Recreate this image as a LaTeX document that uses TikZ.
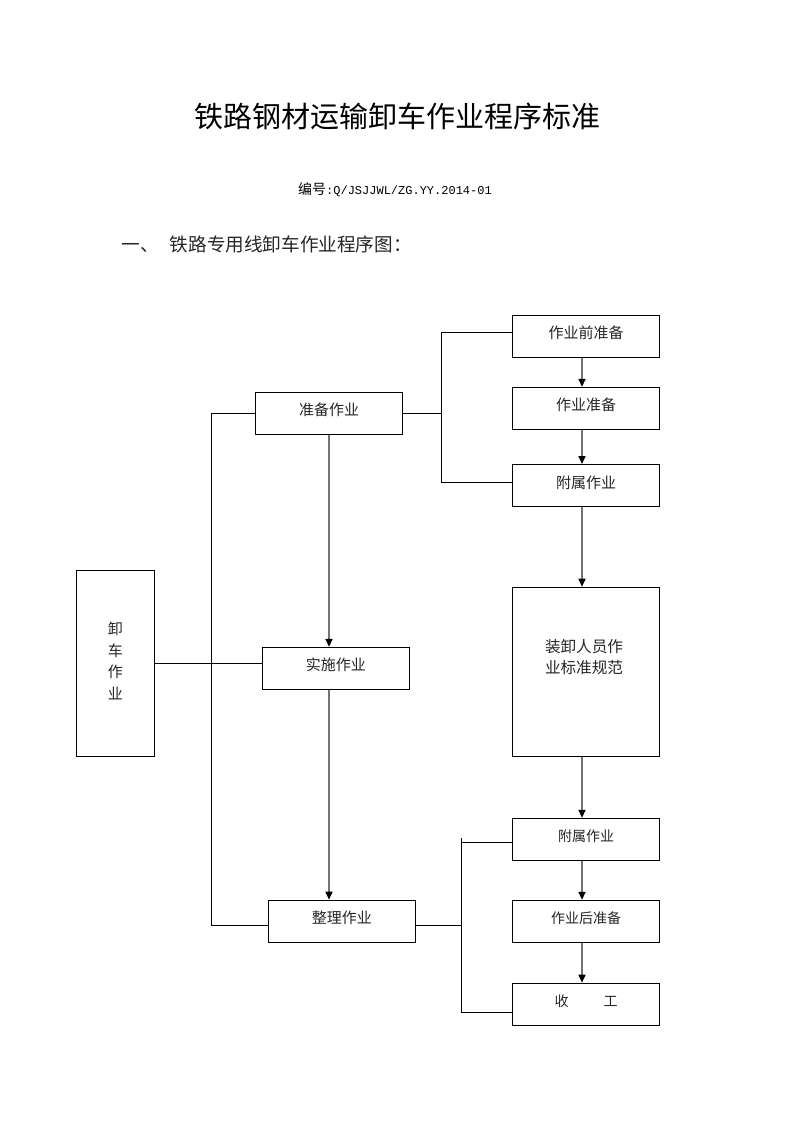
\documentclass[tikz,border=0pt]{standalone}
\usepackage{fontspec}
\newfontfamily\cjk{Noto Sans CJK SC}
\newfontfamily\mono{Liberation Mono}
\usetikzlibrary{arrows.meta}
\begin{document}
\begin{tikzpicture}[x=1pt,y=-1pt,
  box/.style={draw=black,line width=1pt,minimum width=147pt,minimum height=42pt,inner sep=0pt,
    font=\cjk\fontsize{15}{18}\selectfont,text=black!85,text height=13pt,text depth=8pt},
  sbox/.style={box,font=\cjk\fontsize{14}{17}\selectfont},
  conn/.style={draw=black,line width=0.9pt},
  arr/.style={draw=black!55,line width=1.6pt,-{Triangle[length=8pt,width=7pt,color=black]}}]
\useasboundingbox (0,0) rectangle (793,1122);
\fill[white] (0,0) rectangle (793,1122);
% texts
\node (title) at (397.5,116) {\cjk\fontsize{29}{34}\selectfont 铁路钢材运输卸车作业程序标准};
\node (code) at (395,189.5) {\cjk\fontsize{14}{16}\selectfont 编号\mono\fontsize{12}{14}\selectfont:Q/JSJJWL/ZG.YY.2014-01};
\node[anchor=west,inner sep=0pt] (sec) at (121.5,244) {\cjk\fontsize{18.6}{22}\selectfont\color{black!85}一、\hspace{11pt}铁路专用线卸车作业程序图：};
% boxes
\node[box] (qian) at (586,336) {作业前准备};
\node[box] (zb) at (586,408.3) {作业准备};
\node[box] (fs1) at (586,485.5) {附属作业};
\node[box] (zhunbei) at (329,413.3) {准备作业};
\node[draw=black,line width=1pt,minimum width=78pt,minimum height=186pt,inner sep=0pt] (xieche) at (115.3,663.3) {};
\node[align=center,font=\cjk\fontsize{15}{21.7}\selectfont,text=black!85] (xct) at (115.3,661) {卸\\车\\作\\业};
\node[box] (shishi) at (335.8,668.3) {实施作业};
\node[draw=black,line width=1pt,minimum width=147pt,minimum height=169pt,inner sep=0pt] (zx) at (585.8,671.7) {};
\node[align=center,font=\cjk\fontsize{15.6}{20.5}\selectfont,text=black!85] (zxt) at (584,657) {装卸人员作\\业标准规范};
\node[sbox] (fs2) at (586,839.3) {附属作业};
\node[sbox] (hou) at (586,921.3) {作业后准备};
\node[sbox] (sg) at (586,1004.2) {收\hspace{35pt}工};
\node[box] (zl) at (341.8,921.2) {整理作业};
% brackets
\coordinate (lb) at (211.7,925.2);
\draw[conn] (zhunbei.west) -| (lb) -- ([yshift=-4pt]zl.west);
\draw[conn] (xieche.east) -- (xieche.east -| shishi.west);
\coordinate (rb1) at (441.3,413.3);
\draw[conn] (zhunbei.east) -- (rb1);
\draw[conn] ([yshift=4pt]qian.west) -| (rb1) |- ([yshift=3pt]fs1.west);
\coordinate (rb2t) at (461.3,838.3);
\coordinate (rb2b) at (461.3,1012);
\draw[conn] (rb2t) -- (rb2b) -- (rb2b -| sg.west);
\draw[conn] ([yshift=-3pt]fs2.west) -- ([yshift=-3pt]fs2.west -| rb2t);
\draw[conn] ([yshift=-4pt]zl.east) -- ([yshift=-4pt]zl.east -| rb2t);
% arrows (right column at x=582)
\draw[arr] ([xshift=-4pt]qian.south) -- ([xshift=-4pt]zb.north);
\draw[arr] ([xshift=-4pt]zb.south) -- ([xshift=-4pt]fs1.north);
\draw[arr] ([xshift=-4pt]fs1.south) -- ([xshift=-4pt]fs1.south |- zx.north);
\draw[arr] ([xshift=-4pt]fs1.south |- zx.south) -- ([xshift=-4pt]fs2.north);
\draw[arr] ([xshift=-4pt]fs2.south) -- ([xshift=-4pt]hou.north);
\draw[arr] ([xshift=-4pt]hou.south) -- ([xshift=-4pt]sg.north);
\draw[arr] (zhunbei.south) -- (zhunbei.south |- shishi.north);
\draw[arr] (shishi.south -| zhunbei.south) -- (zl.north -| zhunbei.south);
\end{tikzpicture}
\end{document}
